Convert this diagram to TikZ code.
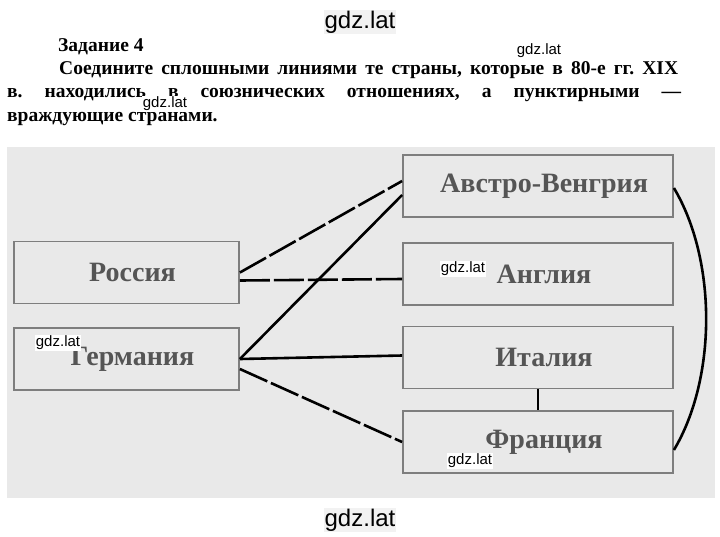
\documentclass[tikz,border=0pt]{standalone}
\usepackage{fontspec}
\setmainfont{Liberation Serif}
\newfontfamily\markfont{Liberation Sans}
\definecolor{pagegray}{HTML}{E9E9E9}
\definecolor{framegray}{HTML}{7E7E7E}
\definecolor{labelgray}{HTML}{555555}

\tikzset{
  country/.style={draw=framegray, line width=1.8pt, fill=pagegray, minimum height=62pt,
    inner sep=0pt, text=labelgray, font=\bfseries\fontsize{28}{30}\selectfont},
  leftbox/.style={country, minimum width=225pt},
  rightbox/.style={country, minimum width=270pt},
  ally/.style={line width=2.6pt},
  enemy/.style={line width=2.6pt, dash pattern=on 30pt off 4pt},
  wmark/.style={fill=white, inner sep=1pt, font=\markfont\fontsize{15}{15}\selectfont},
  bigmark/.style={wmark, fill=black!5, font=\markfont\fontsize{24}{24}\selectfont}
}

\begin{document}
\begin{tikzpicture}[x=1pt, y=-1pt]
\useasboundingbox[fill=white] (0,0) rectangle (720,536);

% task text
\node[anchor=north west, inner sep=0pt, text width=676pt, align=left,
      font=\bfseries\frenchspacing\fontsize{19.5}{23.3}\selectfont] (task) at (7,38)
  {\spaceskip=0pt \xspaceskip=0pt
   \hspace*{51pt}Задание 4\\
   \hspace*{52pt}\makebox[619pt][s]{Соедините сплошными линиями те страны, которые в 80-е гг. XIX}\\
   \makebox[674pt][s]{в. находились в союзнических отношениях, а пунктирными —}\\
   враждующие странами.};

% scanned table
\fill[pagegray] (7,147) rectangle (715,498);

\node[leftbox]  (rossiya)  at (126.5,272.5) {\hspace*{12pt}Россия};
\node[leftbox]  (germania) at (126.5,359)   {\hspace*{12pt}Германия};
\node[rightbox] (avstro)   at (538,186)     {\hspace*{12pt}Австро-Венгрия};
\node[rightbox] (anglia)   at (538,274)     {\hspace*{12pt}Англия};
\node[rightbox] (italia)   at (538,357.5)   {\hspace*{12pt}Италия};
\node[rightbox] (franciya) at (538,442)     {\hspace*{12pt}Франция};

% enemies
\draw[enemy] (rossiya.east) -- ([yshift=5pt]avstro.west);
\draw[enemy] ([yshift=-8pt]rossiya.east) -- ([yshift=-5pt]anglia.west);
\draw[enemy] ([yshift=-10pt]germania.east) -- (franciya.west);

% allies
\draw[ally] (germania.east) -- ([yshift=-9pt]avstro.west);
\draw[ally] (germania.east) -- ([yshift=2pt]italia.west);
\draw[ally] (italia.south) -- (franciya.north);
\draw[ally] ([yshift=-2pt]avstro.east) .. controls +(43,72) and +(43,-72) .. ([yshift=-8pt]franciya.east);

% watermarks
\node[bigmark] (wtop) at (360,22)  {gdz.lat};
\node[bigmark] (wbot) at (360,520) {gdz.lat};
\node[wmark] (w1) at (539,51)  {gdz.lat};
\node[wmark] (w2) at (165,104) {gdz.lat};
\node[wmark] (w3) at (58,343)  {gdz.lat};
\node[wmark] (w4) at (463,269) {gdz.lat};
\node[wmark] (w5) at (470,461) {gdz.lat};
\end{tikzpicture}
\end{document}
